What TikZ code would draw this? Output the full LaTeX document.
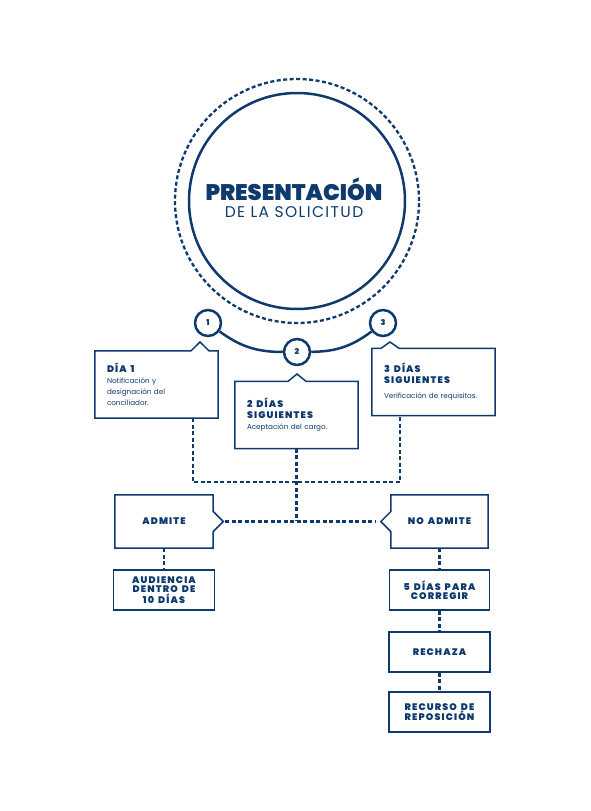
\documentclass[tikz,border=0pt]{standalone}
\usepackage{fontspec}
\setmainfont{Poppins}[BoldFont={Poppins Black}]
\newfontfamily\headfont{Poppins}[BoldFont={Poppins Black}, LetterSpace=12]
\newfontfamily\subfont{Poppins}[LetterSpace=9]
\usetikzlibrary{calc}
\definecolor{navy}{HTML}{0F3A6E}
\tikzset{
  solidline/.style={draw=navy, line width=1.5pt},
  dashline/.style={draw=navy, line width=2.3pt, dash pattern=on 4pt off 2.5pt},
  numcirc/.style={circle, draw=navy, line width=2.5pt, fill=white, text=navy, minimum size=26pt, inner sep=0pt, font=\bfseries\fontsize{8}{8}\selectfont},
  callout/.style={text=navy, minimum width=123pt, minimum height=67pt, text width=99pt, inner xsep=12pt, inner ysep=0pt, align=left, font=\fontsize{7.2}{11}\selectfont},
  steptext/.style={text=navy, minimum width=100pt, minimum height=40pt, inner sep=0pt, align=center, font=\headfont\bfseries\fontsize{9.5}{9}\selectfont},
  stepbox/.style={steptext, draw=navy, line width=1.5pt},
}
\newcommand{\calhead}[1]{{\headfont\bfseries\fontsize{9.5}{9}\selectfont #1}}
\newcommand{\hsp}{\hspace{4pt}}

\begin{document}
\begin{tikzpicture}[x=1pt, y=-1pt]
\useasboundingbox (0,0) rectangle (590,811);

% Main circle
\node[circle, draw=navy, line width=2.5pt, minimum size=216pt] (main) at (297,201) {};
\node[circle, dashline, minimum size=244pt] (ring) at (297,201) {};
\node[text=navy, align=center] (title) at (294,198)
  {{\bfseries\fontsize{22.5}{24}\selectfont PRESENTACIÓN}\\[5pt]{\subfont\fontsize{15.5}{17}\selectfont DE LA SOLICITUD}};

% Steps
\node[numcirc] (n1) at (208,323) {1};
\node[numcirc] (n2) at (297,352) {2};
\node[numcirc] (n3) at (383,323) {3};
\draw[navy, line width=2.5pt] (n1) to[bend right=18] (n2);
\draw[navy, line width=2.5pt] (n2) to[bend right=18] (n3);

% Callouts
\node[callout] (b1) at (156.5,384.5) {\calhead{DÍA\hsp1}\\Notificación y\\designación del\\conciliador.};
\node[callout] (b2) at (296.5,415) {\calhead{2\hsp DÍAS\\SIGUIENTES}\\Aceptación del cargo.};
\node[callout] (b3) at (433.5,382) {\calhead{3\hsp DÍAS\\SIGUIENTES}\\[4pt]Verificación de requisitos.};
\coordinate (a1) at (200,342);
\coordinate (a2) at (297,374);
\coordinate (a3) at (390,342);
\draw[solidline] (b1.north west) -- ($(a1 |- b1.north)+(-9,0)$) -- (a1) -- ($(a1 |- b1.north)+(9,0)$)
  -- (b1.north east) -- (b1.south east) -- (b1.south west) -- cycle;
\draw[solidline] (b2.north west) -- ($(a2 |- b2.north)+(-9,0)$) -- (a2) -- ($(a2 |- b2.north)+(9,0)$)
  -- (b2.north east) -- (b2.south east) -- (b2.south west) -- cycle;
\draw[solidline] (b3.north west) -- ($(a3 |- b3.north)+(-9,0)$) -- (a3) -- ($(a3 |- b3.north)+(9,0)$)
  -- (b3.north east) -- (b3.south east) -- (b3.south west) -- cycle;

% Decision
\node[steptext, minimum width=98pt, minimum height=53pt] (adm) at (164,521.5) {ADMITE};
\node[steptext, minimum width=97pt, minimum height=53pt] (nadm) at (439.5,521.5) {NO\hsp ADMITE};
\coordinate (admtip) at ([xshift=10pt]adm.east);
\coordinate (nadmtip) at ([xshift=-10pt]nadm.west);
\draw[solidline] (adm.north west) -- (adm.north east) -- ([yshift=10pt]adm.east) -- (admtip)
  -- ([yshift=-10pt]adm.east) -- (adm.south east) -- (adm.south west) -- cycle;
\draw[solidline] (nadm.north east) -- (nadm.north west) -- ([yshift=10pt]nadm.west) -- (nadmtip)
  -- ([yshift=-10pt]nadm.west) -- (nadm.south west) -- (nadm.south east) -- cycle;

\node[stepbox, minimum width=101pt] (aud) at (164,590) {AUDIENCIA\\DENTRO\hsp DE\\10\hsp DÍAS};
\node[stepbox] (corr) at (439.5,590) {5\hsp DÍAS\hsp PARA\\CORREGIR};
\node[stepbox, minimum width=101pt] (rech) at (439.5,652) {RECHAZA};
\node[stepbox, minimum width=101pt] (recu) at (439.5,712) {RECURSO\hsp DE\\REPOSICIÓN};

% Connectors
\coordinate (jl) at (193,482);
\coordinate (jr) at (400,482);
\coordinate (jc) at (296.5,521);
\draw[dashline] (b1.south -| jl) -- (jl) -- (jr) -- (b3.south -| jr);
\draw[dashline] (b2.south) -- (jc);
\draw[dashline, shorten <=2pt, shorten >=6pt] (admtip) -- (nadmtip);
\draw[dashline] (adm) -- (aud);
\draw[dashline] (nadm) -- (corr);
\draw[dashline] (corr) -- (rech);
\draw[dashline] (rech) -- (recu);
\end{tikzpicture}
\end{document}
